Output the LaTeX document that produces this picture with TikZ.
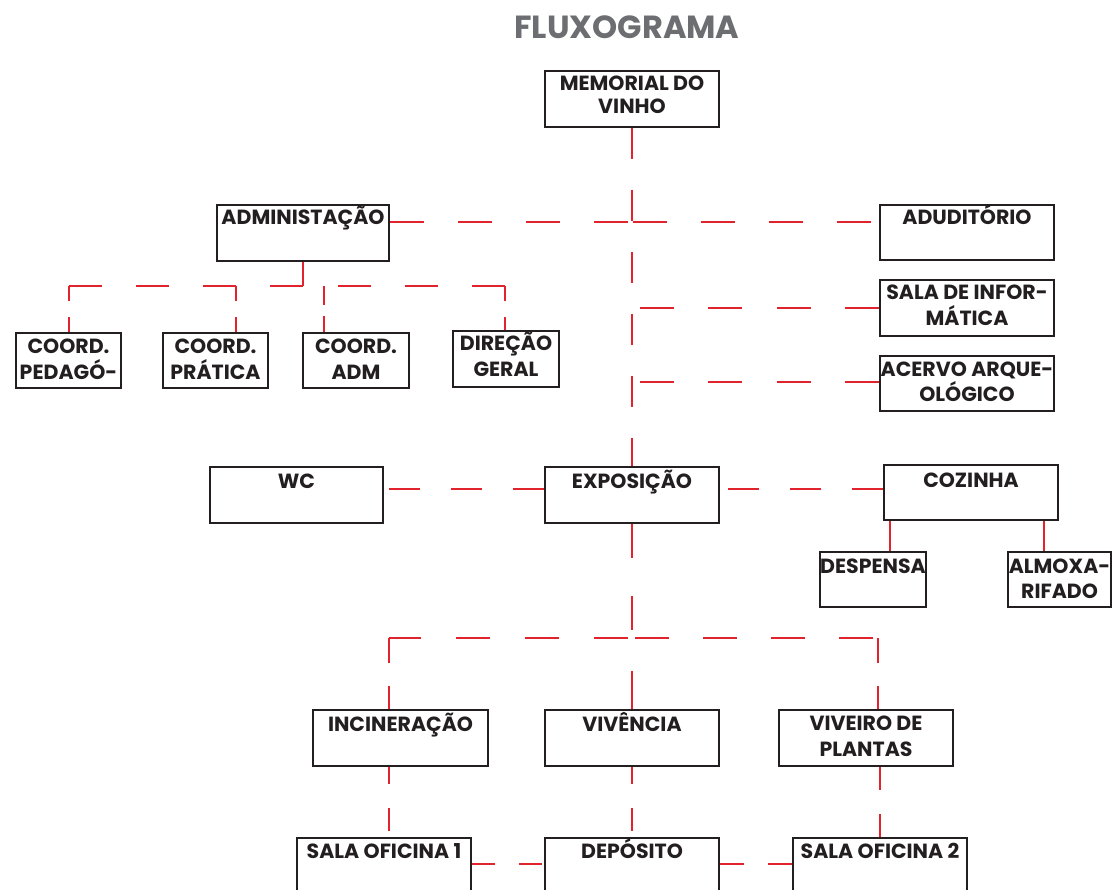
\documentclass[tikz,border=0pt]{standalone}
\usepackage{fontspec}
\setmainfont{Poppins}
\usetikzlibrary{fit,backgrounds}
\definecolor{ink}{RGB}{35,31,32}
\definecolor{redl}{RGB}{225,35,45}
\definecolor{titleg}{RGB}{109,110,113}
\tikzset{
  roombox/.style={draw=ink, line width=2pt, fill=white, inner sep=0pt, rectangle},
  rtxt/.style={anchor=base, inner sep=0pt, text=ink, font=\fontsize{20.5}{23}\selectfont\bfseries},
  rline/.style={draw=redl, line width=1.8pt},
  solidl/.style={draw=redl, line width=1.6pt},
}
\newcommand\room[5]{\node[roombox, fit={(#2,#3) (#4,#5)}] (#1) {};}
\newcommand\rt[4]{\node[rtxt] (#1) at ([yshift=-#3pt]#2.north) {#4};}
\begin{document}
\begin{tikzpicture}[x=1pt,y=-1pt]
\useasboundingbox (0,0) rectangle (1113,890);
\clip (0,0) rectangle (1113,890);

\node[anchor=base, inner sep=0pt, text=titleg, font=\fontsize{32}{36}\selectfont\bfseries] (title) at (627,39) {FLUXOGRAMA};

% rooms
\room{memo}{545}{71}{719}{127}
\room{admin}{217}{205}{389}{261}
\room{audit}{880}{205}{1054}{260}
\room{info}{880}{280}{1054}{336}
\room{acervo}{880}{356}{1054}{411}
\room{cped}{16}{333}{121}{388}
\room{cpra}{163}{333}{268}{388}
\room{cadm}{303}{333}{409}{388}
\room{dir}{453}{331}{559}{387}
\room{wc}{210}{467}{383}{523}
\room{expo}{545}{467}{719}{523}
\room{coz}{884}{465}{1058}{520}
\room{desp}{820}{552}{926}{607}
\room{almox}{1008}{552}{1111}{607}
\room{incin}{313}{710}{488}{766}
\room{viv}{545}{710}{719}{766}
\room{vive}{779}{710}{953}{766}
\room{so1}{297}{838}{471}{900}
\room{dep}{545}{838}{719}{900}
\room{so2}{793}{838}{967}{900}

% texts
\rt{memo-a}{memo}{21}{MEMORIAL DO}
\rt{memo-b}{memo}{44}{VINHO}
\rt{admin-a}{admin}{21}{ADMINISTAÇÃO}
\rt{audit-a}{audit}{21}{ADUDITÓRIO}
\rt{info-a}{info}{21}{SALA DE INFOR-}
\rt{info-b}{info}{47}{MÁTICA}
\rt{acervo-a}{acervo}{21}{ACERVO ARQUE-}
\rt{acervo-b}{acervo}{46}{OLÓGICO}
\rt{cped-a}{cped}{21}{COORD.}
\rt{cped-b}{cped}{47}{PEDAGÓ-}
\rt{cpra-a}{cpra}{21}{COORD.}
\rt{cpra-b}{cpra}{47}{PRÁTICA}
\rt{cadm-a}{cadm}{21}{COORD.}
\rt{cadm-b}{cadm}{47}{ADM}
\rt{dir-a}{dir}{20}{DIREÇÃO}
\rt{dir-b}{dir}{46}{GERAL}
\rt{wc-a}{wc}{22}{WC}
\rt{expo-a}{expo}{22}{EXPOSIÇÃO}
\rt{coz-a}{coz}{23}{COZINHA}
\rt{desp-a}{desp}{22}{DESPENSA}
\rt{almox-a}{almox}{22}{ALMOXA-}
\rt{almox-b}{almox}{47}{RIFADO}
\rt{incin-a}{incin}{22}{INCINERAÇÃO}
\rt{viv-a}{viv}{22}{VIVÊNCIA}
\rt{vive-a}{vive}{21}{VIVEIRO DE}
\rt{vive-b}{vive}{47}{PLANTAS}
\rt{so1-a}{so1}{21}{SALA OFICINA 1}
\rt{dep-a}{dep}{21}{DEPÓSITO}
\rt{so2-a}{so2}{21}{SALA OFICINA 2}

% junctions
\coordinate (jtop) at (632,222);
\coordinate (jinfo) at (639,308);
\coordinate (jacv) at (639,382);
\coordinate (jad) at (303,286);
\coordinate (jped) at (69,286);
\coordinate (jpra) at (236,286);
\coordinate (jadm) at (324,286);
\coordinate (jdir) at (505,286);
\coordinate (jexpo) at (632,489);
\coordinate (jdes) at (890,0);
\coordinate (jalm) at (1044,0);
\coordinate (jbot) at (632,638);
\coordinate (jinc) at (389,638);
\coordinate (jviv) at (878,638);
\coordinate (jvive) at (880,0);
\coordinate (jlow) at (632,864);

\begin{pgfonlayer}{background}
\draw[rline, dash pattern=on 31pt off 31pt] (memo.south) -- (expo.north);
\draw[rline, dash pattern=on 34pt off 34pt] (admin.east |- jtop) -- (jtop);
\draw[rline, dash pattern=on 34pt off 34pt, dash phase=67pt] (jtop) -- (audit.west |- jtop);
\draw[rline, dash pattern=on 34pt off 34.5pt] (info.west |- jinfo) -- (jinfo);
\draw[rline, dash pattern=on 34pt off 34.5pt] (acervo.west |- jacv) -- (jacv);
% administration subtree
\draw[solidl] (admin.south) -- (jad);
\draw[rline, dash pattern=on 33pt off 34pt] (jad) -- (jped);
\draw[rline, dash pattern=on 15pt off 16pt] (jped) -- (cped.north -| jped);
\draw[rline, dash pattern=on 15pt off 16pt] (jpra) -- (cpra.north -| jpra);
\draw[rline, dash pattern=on 19pt off 11pt] (jadm) -- (cadm.north -| jadm);
\draw[rline, dash pattern=on 15pt off 16pt] (jdir) -- (dir.north -| jdir);
\draw[rline, dash pattern=on 33pt off 34pt] (jdir) -- (jadm);
% exposition row
\draw[rline, dash pattern=on 31pt off 31pt] (coz.west |- jexpo) -- (expo.east |- jexpo);
\draw[rline, dash pattern=on 31pt off 31pt] (expo.west |- jexpo) -- (wc.east |- jexpo);
\draw[solidl] (coz.south -| jdes) -- (desp.north -| jdes);
\draw[solidl] (coz.south -| jalm) -- (almox.north -| jalm);
% lower tree
\draw[rline, dash pattern=on 34pt off 38pt] (expo.south) -- (jbot);
\draw[rline, dash pattern=on 34pt off 35pt, dash phase=65pt] (jbot) -- (jinc);
\draw[rline, dash pattern=on 34pt off 34pt, dash phase=65pt] (jbot) -- (jviv);
\draw[rline, dash pattern=on 25pt off 23pt] (jinc) -- (incin.north -| jinc);
\draw[rline, dash pattern=on 25pt off 23pt] (jviv) -- (vive.north -| jviv);
\draw[rline, dash pattern=on 38pt off 50pt] (viv.north) -- (jbot);
\draw[rline, dash pattern=on 17pt off 24pt on 23pt off 100pt] (incin.south -| jinc) -- (so1.north -| jinc);
\draw[rline, dash pattern=on 17pt off 24pt on 23pt off 100pt] (viv.south) -- (dep.north);
\draw[rline, dash pattern=on 23pt off 24pt on 23pt off 100pt] (vive.south -| jvive) -- (so2.north -| jvive);
\draw[rline, dash pattern=on 23pt off 24pt on 23pt off 50pt] (so1.east |- jlow) -- (dep.west |- jlow);
\draw[rline, dash pattern=on 24pt off 24pt on 26pt off 50pt] (dep.east |- jlow) -- (so2.west |- jlow);
\end{pgfonlayer}
\end{tikzpicture}
\end{document}
